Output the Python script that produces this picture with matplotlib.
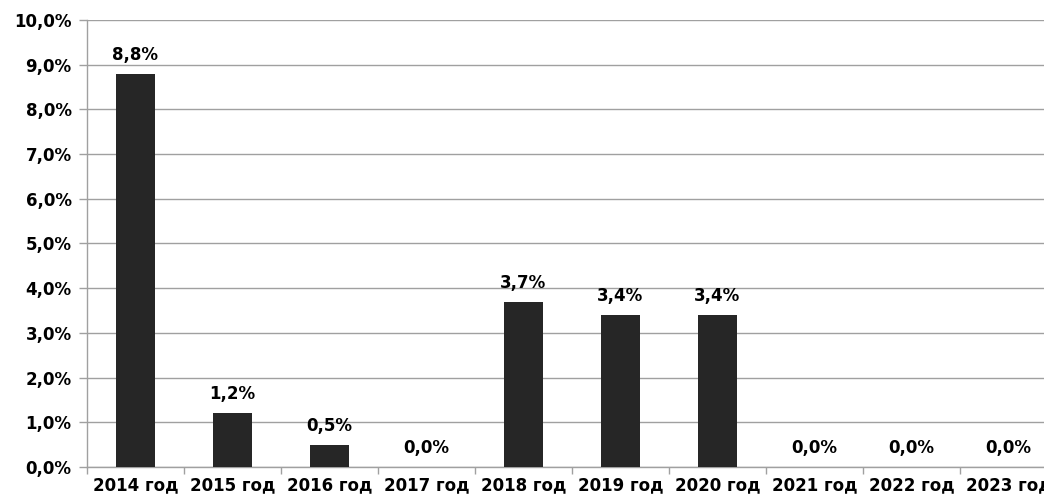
import matplotlib
matplotlib.use("Agg")
import matplotlib.pyplot as plt
from matplotlib.ticker import FixedLocator

years = ["2014 год", "2015 год", "2016 год", "2017 год", "2018 год",
         "2019 год", "2020 год", "2021 год", "2022 год", "2023 год"]
values = [8.8, 1.2, 0.5, 0.0, 3.7, 3.4, 3.4, 0.0, 0.0, 0.0]
y_ticks = [0, 1, 2, 3, 4, 5, 6, 7, 8, 9, 10]

plt.rcParams["font.family"] = "DejaVu Sans"
plt.rcParams["font.weight"] = "bold"

fig = plt.figure(figsize=(10.44, 4.97), dpi=100)
# plot area runs past the right edge like in the original
ax = fig.add_axes([0.0833, 0.0604, 0.929, 0.8994])

x = list(range(len(values)))
ax.bar(x, values, width=0.4, color="#262626", zorder=3)

for xi, v in zip(x, values):
    ax.annotate(f"{v:.1f}%".replace(".", ","), (xi, v), xytext=(0, 10),
                textcoords="offset points", ha="center", va="baseline",
                fontsize=12, fontweight="bold", color="black")

ax.set_xlim(-0.5, len(values) - 0.5)
ax.set_ylim(0, 10)
ax.set_yticks(y_ticks)
ax.set_yticklabels([f"{t:.1f}%".replace(".", ",") for t in y_ticks])
ax.set_xticks(x)
ax.set_xticklabels(years)
ax.xaxis.set_minor_locator(FixedLocator([i - 0.5 for i in range(len(values) + 1)]))

ax.tick_params(axis="x", which="major", length=0, pad=7, labelsize=12)
ax.tick_params(axis="x", which="minor", length=5, width=1, color="#a0a0a0")
ax.tick_params(axis="y", length=6, width=1, color="#a0a0a0", pad=5, labelsize=12)

ax.yaxis.grid(True, color="#a0a0a0", linewidth=1, zorder=0)
for s in ["top", "right"]:
    ax.spines[s].set_visible(False)
for s in ["left", "bottom"]:
    ax.spines[s].set_color("#a0a0a0")
    ax.spines[s].set_linewidth(1)

fig.savefig("out.png", dpi=100)
